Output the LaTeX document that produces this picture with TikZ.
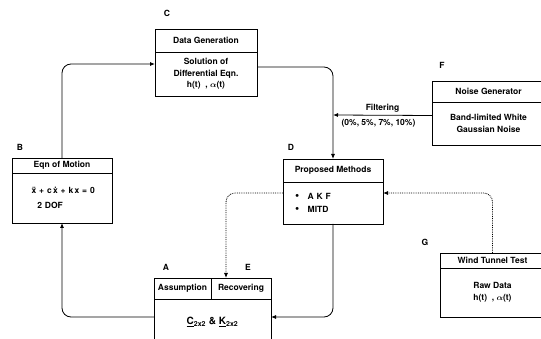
\documentclass[tikz,border=0pt]{standalone}
\usepackage{fontspec}
\setsansfont{TeX Gyre Heros}
\usepackage{tikz}
\usetikzlibrary{positioning, arrows.meta}
\tikzset{
  hdr/.style={draw, line width=0.8pt, outer sep=0pt, inner sep=1pt, align=center,
              font=\sffamily\bfseries\fontsize{8.5}{10}\selectfont},
  body/.style={draw, line width=0.8pt, outer sep=0pt, inner sep=2pt, align=center,
               font=\sffamily\bfseries\fontsize{8.5}{11.5}\selectfont},
  tag/.style={font=\sffamily\bfseries\fontsize{8.5}{10}\selectfont},
  flow/.style={-{Latex[length=5pt, width=4pt]}, line width=0.8pt, rounded corners=9pt},
  flowD/.style={flow, densely dotted},
}

\begin{document}
\begin{tikzpicture}[x=1pt, y=-1pt]
  \useasboundingbox (0,0) rectangle (541,339);
  % C: data generation
  \node[hdr, minimum width=102pt, minimum height=23pt] (Ch) at (206,40.5) {Data Generation};
  \node[body, below=0pt of Ch, minimum width=102pt, minimum height=44pt]
    (Cb) {Solution of\\Differential Eqn.\\h(t)\ \ ,\ {\boldmath$\alpha$}(t)};
  % B: equation of motion
  \node[hdr, minimum width=100pt, minimum height=15pt] (Bh) at (62,165.5) {Eqn of Motion};
  \node[body, below=0pt of Bh, minimum width=100pt, minimum height=50pt, align=left,
        text width=72pt, inner xsep=14pt]
    (Bb) {\ \ \"x + c\,\.x + k\,x = 0\\[3pt]\ \ \ \ 2 DOF};
  % D: proposed methods
  \node[hdr, minimum width=100pt, minimum height=23pt] (Dh) at (333,170.5) {Proposed Methods};
  \node[body, below=0pt of Dh, minimum width=100pt, minimum height=42pt, align=left,
        text width=76pt, inner xsep=12pt]
    (Db) {{\large\textbullet}\quad A K F\\[2pt]{\large\textbullet}\quad MITD};
  % F: noise
  \node[hdr, minimum width=113pt, minimum height=21pt] (Fh) at (488.5,91.5) {Noise Generator};
  \node[body, below=0pt of Fh, minimum width=113pt, minimum height=43pt]
    (Fb) {Band-limited White\\Gaussian Noise};
  % G: wind tunnel
  \node[hdr, minimum width=105pt, minimum height=15pt] (Gh) at (492.5,260.5) {Wind Tunnel Test};
  \node[body, below=0pt of Gh, minimum width=105pt, minimum height=49pt]
    (Gb) {Raw Data\\h(t)\ \ ,\ {\boldmath$\alpha$}(t)};
  % A / E
  \node[hdr, minimum width=57pt, minimum height=21pt] (Ah) at (182.5,288.5) {Assumption};
  \node[hdr, right=0pt of Ah, minimum width=60pt, minimum height=21pt] (Eh) {Recovering};
  \node[body, anchor=north west, minimum width=117pt, minimum height=46pt,
        font=\sffamily\bfseries\fontsize{10}{12}\selectfont]
    (ABb) at (Ah.south west) {\underline{C}\textsubscript{2x2} \& \underline{K}\textsubscript{2x2}};

  % letters
  \node[tag] (lA) at (166,267) {A};
  \node[tag] (lB) at (20,147) {B};
  \node[tag] (lC) at (167,13) {C};
  \node[tag] (lD) at (291,147) {D};
  \node[tag] (lE) at (248,267) {E};
  \node[tag] (lF) at (442,65) {F};
  \node[tag] (lG) at (425,242) {G};

  \coordinate (join) at (333,115);

  % connectors
  \draw[flow] (Bh.north) |- ([yshift=10pt]Cb.west);
  \draw[flow] ([yshift=7pt]Cb.east) -| (Dh.north);
  \draw[flow, rounded corners=0pt] ([yshift=8pt]Fb.west) -- (join)
    node[tag, midway, above=-1pt] (filt) {Filtering}
    node[tag, midway, below=0pt, xshift=-4pt] (pct) {(0\%, 5\%, 7\%, 10\%)};
  \draw[flowD] (Gh.north) |- ([yshift=10pt]Db.east);
  \draw[flowD] ([yshift=10pt]Db.west) -| ([xshift=-15pt]Eh.north);
  \draw[flow] (Db.south) |- ([yshift=5pt]ABb.east);
  \draw[flow] ([yshift=5pt]ABb.west) -| (Bb.south);
\end{tikzpicture}
\end{document}
